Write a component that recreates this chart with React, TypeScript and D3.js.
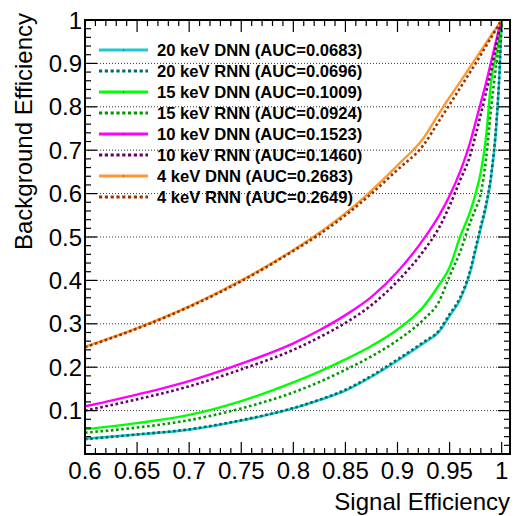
import React, { useEffect, useRef } from "react";
import * as d3 from "d3";

// signal efficiency grid shared by all curves
const signalEff = [0.6, 0.65, 0.7, 0.75, 0.8, 0.825, 0.85, 0.875, 0.9, 0.925, 0.94, 0.95, 0.96, 0.97, 0.975, 0.98, 0.985, 0.99, 0.995, 0.998, 1.0];

// background efficiency
const bkg20DNN = [0.035, 0.045, 0.056, 0.077, 0.105, 0.124, 0.146, 0.178, 0.215, 0.255, 0.282, 0.318, 0.355, 0.42, 0.47, 0.52, 0.57, 0.64, 0.76, 0.88, 1.0];
const bkg20RNN = [0.034, 0.045, 0.057, 0.078, 0.106, 0.125, 0.148, 0.18, 0.218, 0.258, 0.285, 0.322, 0.36, 0.425, 0.475, 0.525, 0.575, 0.645, 0.765, 0.885, 1.0];
const bkg15DNN = [0.057, 0.071, 0.09, 0.122, 0.165, 0.19, 0.218, 0.249, 0.287, 0.34, 0.39, 0.43, 0.5, 0.56, 0.6, 0.65, 0.73, 0.86, 0.925, 0.96, 1.0];
const bkg15RNN = [0.049, 0.061, 0.078, 0.105, 0.142, 0.166, 0.194, 0.225, 0.262, 0.31, 0.352, 0.41, 0.465, 0.535, 0.565, 0.6, 0.68, 0.8, 0.9, 0.95, 1.0];
const bkg10DNN = [0.11, 0.137, 0.168, 0.208, 0.255, 0.285, 0.32, 0.362, 0.42, 0.495, 0.55, 0.595, 0.65, 0.72, 0.765, 0.81, 0.855, 0.905, 0.955, 0.985, 1.0];
const bkg10RNN = [0.1, 0.126, 0.156, 0.195, 0.24, 0.269, 0.302, 0.343, 0.398, 0.468, 0.522, 0.572, 0.63, 0.69, 0.735, 0.783, 0.833, 0.885, 0.945, 0.98, 1.0];
const bkg4DNN = [0.247, 0.29, 0.34, 0.4, 0.47, 0.51, 0.555, 0.607, 0.665, 0.728, 0.785, 0.822, 0.857, 0.893, 0.911, 0.929, 0.947, 0.965, 0.982, 0.993, 1.0];
const bkg4RNN = [0.246, 0.289, 0.339, 0.398, 0.468, 0.506, 0.55, 0.6, 0.655, 0.712, 0.768, 0.805, 0.843, 0.881, 0.9, 0.92, 0.94, 0.96, 0.98, 0.992, 1.0];

const labels = [
  "20 keV DNN (AUC=0.0683)",
  "20 keV RNN (AUC=0.0696)",
  "15 keV DNN (AUC=0.1009)",
  "15 keV RNN (AUC=0.0924)",
  "10 keV DNN (AUC=0.1523)",
  "10 keV RNN (AUC=0.1460)",
  "4 keV DNN (AUC=0.2683)",
  "4 keV RNN (AUC=0.2649)",
];
const colors = ["#1ccbcf", "#006b6b", "#00ff00", "#009a00", "#ff00ff", "#660066", "#ff9933", "#993300"];
const dotted = [false, true, false, true, false, true, false, true];
const seriesValues = [bkg20DNN, bkg20RNN, bkg15DNN, bkg15RNN, bkg10DNN, bkg10RNN, bkg4DNN, bkg4RNN];

const xTicks = [0.6, 0.65, 0.7, 0.75, 0.8, 0.85, 0.9, 0.95, 1];
const yTicks = [0.1, 0.2, 0.3, 0.4, 0.5, 0.6, 0.7, 0.8, 0.9, 1];

const W = 514;
const H = 516;
const FONT = "'Liberation Sans', Arial, sans-serif";

export default function App() {
  const svgRef = useRef<SVGSVGElement>(null);

  useEffect(() => {
    const svg = d3.select(svgRef.current);
    svg.selectAll("*").remove();

    const left = 85, right = 510, top = 20, bottom = 454;
    const x = d3.scaleLinear().domain([0.6, 1.008]).range([left, right]);
    const y = d3.scaleLinear().domain([0, 1]).range([bottom, top]);

    svg.append("rect").attr("width", W).attr("height", H).attr("fill", "white");

    // horizontal grid
    svg.append("g")
      .selectAll("line")
      .data(yTicks.filter(t => t < 1))
      .enter()
      .append("line")
      .attr("x1", left).attr("x2", right)
      .attr("y1", d => y(d)).attr("y2", d => y(d))
      .attr("stroke", "#333")
      .attr("stroke-width", 1)
      .attr("stroke-dasharray", "1,2");

    // curves
    svg.append("clipPath").attr("id", "plotclip")
      .append("rect").attr("x", left).attr("y", top).attr("width", right - left).attr("height", bottom - top);

    const line = d3.line<number>()
      .x((d, i) => x(signalEff[i]))
      .y(d => y(d))
      .curve(d3.curveMonotoneX);

    const curves = svg.append("g").attr("clip-path", "url(#plotclip)");
    seriesValues.forEach((vals, i) => {
      curves.append("path")
        .attr("d", line(vals))
        .attr("fill", "none")
        .attr("stroke", colors[i])
        .attr("stroke-width", dotted[i] ? 2.6 : 2.4)
        .attr("stroke-dasharray", dotted[i] ? "2.6,2.6" : null);
    });

    // frame + ticks
    const axes = svg.append("g").attr("stroke", "black");
    axes.append("rect")
      .attr("x", left).attr("y", top)
      .attr("width", right - left).attr("height", bottom - top)
      .attr("fill", "none").attr("stroke-width", 2);

    const xMinor = d3.range(60, 101).map(v => v / 100);
    xMinor.forEach(v => {
      const major = Math.round(v * 100) % 5 === 0;
      const len = major ? 12 : 6;
      axes.append("line").attr("x1", x(v)).attr("x2", x(v)).attr("y1", bottom).attr("y2", bottom - len).attr("stroke-width", 1.2);
      axes.append("line").attr("x1", x(v)).attr("x2", x(v)).attr("y1", top).attr("y2", top + len).attr("stroke-width", 1.2);
    });
    const yMinor = d3.range(0, 51).map(v => v / 50);
    yMinor.forEach(v => {
      const major = Math.round(v * 50) % 5 === 0;
      const len = major ? 12 : 6;
      axes.append("line").attr("x1", left).attr("x2", left + len).attr("y1", y(v)).attr("y2", y(v)).attr("stroke-width", 1.2);
      axes.append("line").attr("x1", right).attr("x2", right - len).attr("y1", y(v)).attr("y2", y(v)).attr("stroke-width", 1.2);
    });

    // tick labels
    svg.append("g")
      .selectAll("text")
      .data(xTicks)
      .enter()
      .append("text")
      .attr("x", d => x(d))
      .attr("y", 479)
      .attr("text-anchor", "middle")
      .style("font-family", FONT)
      .style("font-size", "24px")
      .text(d => String(d));

    svg.append("g")
      .selectAll("text")
      .data(yTicks)
      .enter()
      .append("text")
      .attr("x", 82)
      .attr("y", d => y(d) + 8.6)
      .attr("text-anchor", "end")
      .style("font-family", FONT)
      .style("font-size", "24px")
      .text(d => String(d));

    // axis titles
    svg.append("text")
      .attr("x", right)
      .attr("y", 510)
      .attr("text-anchor", "end")
      .style("font-family", FONT)
      .style("font-size", "24px")
      .text("Signal Efficiency");

    svg.append("text")
      .attr("transform", `translate(32, ${top - 7}) rotate(-90)`)
      .attr("text-anchor", "end")
      .style("font-family", FONT)
      .style("font-size", "24px")
      .text("Background Efficiency");

    // legend
    const leg = svg.append("g");
    labels.forEach((lab, i) => {
      const ly = 50 + i * 21;
      leg.append("line")
        .attr("x1", 99).attr("x2", 148)
        .attr("y1", ly).attr("y2", ly)
        .attr("stroke", colors[i])
        .attr("stroke-width", dotted[i] ? 3.2 : 2.8)
        .attr("stroke-dasharray", dotted[i] ? "3.2,2.6" : null);
      if (!dotted[i]) {
        leg.append("rect").attr("x", 123).attr("y", ly - 0.5).attr("width", 1).attr("height", 1).attr("fill", "#333");
      }
      leg.append("text")
        .attr("x", 157)
        .attr("y", ly + 6.1)
        .style("font-family", FONT)
        .style("font-size", "16.6px")
        .style("font-weight", "bold")
        .text(lab);
    });
  }, []);

  return (
    <svg
      ref={svgRef}
      width={W}
      height={H}
      style={{ position: "absolute", left: 0, top: 0 }}
    ></svg>
  );
}
